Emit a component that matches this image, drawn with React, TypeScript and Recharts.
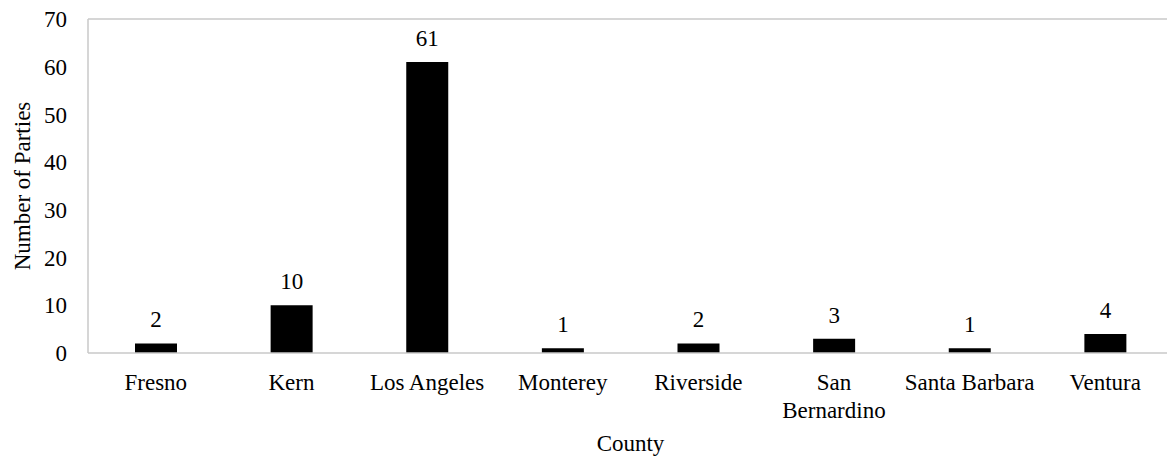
import React from 'react';
import {
  BarChart,
  Bar,
  XAxis,
  YAxis,
  ReferenceLine,
  LabelList,
} from 'recharts';

const counties = [
  'Fresno',
  'Kern',
  'Los Angeles',
  'Monterey',
  'Riverside',
  'San Bernardino',
  'Santa Barbara',
  'Ventura',
];
const parties = [2, 10, 61, 1, 2, 3, 1, 4];
const yTicks = [0, 10, 20, 30, 40, 50, 60, 70];

const data = counties.map((county, i) => ({ county, parties: parties[i] }));

const FONT = "'Liberation Serif', 'Times New Roman', Times, serif";
const FONT_SIZE = 23;
const AXIS_GRAY = '#c9c9c9';
const TICK_WRAP = 138;

// greedy word wrap using canvas text metrics
let measureCtx: CanvasRenderingContext2D | null = null;
const wrapLabel = (label: string): string[] => {
  if (!measureCtx) {
    measureCtx = document.createElement('canvas').getContext('2d');
  }
  if (!measureCtx) return [label];
  measureCtx.font = `${FONT_SIZE}px ${FONT}`;
  const lines: string[] = [];
  let current = '';
  label.split(' ').forEach((word) => {
    const next = current ? `${current} ${word}` : word;
    if (current && measureCtx!.measureText(next).width > TICK_WRAP) {
      lines.push(current);
      current = word;
    } else {
      current = next;
    }
  });
  if (current) lines.push(current);
  return lines;
};

const CountyTick = (props: any) => {
  const { x, y, payload } = props;
  const lines = wrapLabel(String(payload.value));
  return (
    <text
      x={x}
      y={y}
      textAnchor="middle"
      fill="#000"
      style={{ fontFamily: FONT, fontSize: FONT_SIZE }}
    >
      {lines.map((line, i) => (
        <tspan key={line} x={x} dy={i === 0 ? '0.71em' : 28}>
          {line}
        </tspan>
      ))}
    </text>
  );
};

const App: React.FC = () => {
  return (
    <div
      style={{
        position: 'absolute',
        left: 0,
        top: 0,
        width: 1167,
        height: 459,
        overflow: 'hidden',
        background: '#fff',
        fontFamily: FONT,
      }}
    >
      <BarChart
        width={1180}
        height={459}
        data={data}
        margin={{ top: 19, right: 7, left: 28, bottom: 0 }}
      >
        <XAxis
          dataKey="county"
          height={106}
          tickLine={false}
          tickSize={0}
          tickMargin={21}
          axisLine={{ stroke: AXIS_GRAY, strokeWidth: 1.5 }}
          tick={<CountyTick />}
          interval={0}
          label={{
            value: 'County',
            position: 'insideBottom',
            offset: 8,
            fill: '#000',
            style: { fontFamily: FONT, fontSize: FONT_SIZE },
          }}
        />
        <YAxis
          width={60}
          domain={[0, 70]}
          ticks={yTicks}
          tickLine={false}
          tickSize={0}
          tickMargin={21}
          axisLine={{ stroke: AXIS_GRAY, strokeWidth: 1.5 }}
          tick={{ fill: '#000', fontSize: FONT_SIZE, fontFamily: FONT }}
          label={{
            value: 'Number of Parties',
            angle: -90,
            position: 'insideLeft',
            offset: -6,
            fill: '#000',
            style: { fontFamily: FONT, fontSize: FONT_SIZE, textAnchor: 'middle' },
          }}
        />
        <ReferenceLine y={70} stroke={AXIS_GRAY} strokeWidth={1.5} />
        <Bar dataKey="parties" fill="#000" barSize={42} isAnimationActive={false}>
          <LabelList
            dataKey="parties"
            position="top"
            offset={16}
            fill="#000"
            style={{ fontFamily: FONT, fontSize: FONT_SIZE }}
          />
        </Bar>
      </BarChart>
    </div>
  );
};

export default App;
